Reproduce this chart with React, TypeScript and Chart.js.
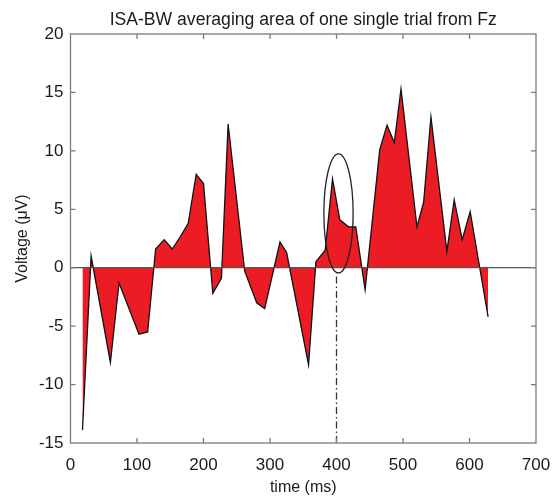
import React, { useEffect, useRef } from "react";
import { Chart, registerables } from "chart.js";

Chart.register(...registerables);

const TITLE = "ISA-BW averaging area of one single trial from Fz";
const X_LABEL = "time (ms)";
const Y_LABEL = "Voltage (μV)";

const timeMs = [18, 31, 60, 73, 103, 116, 128, 141, 153, 165, 177, 189, 200, 214, 227, 237, 262, 280, 292, 315, 325, 358, 369, 383, 394, 405, 418, 429, 443, 465, 476, 487, 497, 521, 531, 542, 566, 577, 589, 601, 628];
const voltage = [-13.9, 1.0, -8.1, -1.3, -5.7, -5.5, 1.6, 2.4, 1.6, 2.65, 3.8, 8.0, 7.2, -2.2, -0.9, 12.3, -0.3, -3.0, -3.5, 2.2, 1.3, -8.3, 0.5, 1.5, 7.6, 4.1, 3.5, 3.5, -1.9, 10.1, 12.2, 10.7, 15.3, 3.5, 5.6, 12.9, 1.4, 5.8, 2.4, 4.8, -4.2];

const X_MIN = 0, X_MAX = 700, X_STEP = 100;
const Y_MIN = -15, Y_MAX = 20, Y_STEP = 5;

const baselineX = [0, 700];
const baselineY = [0, 0];

const markerX = [400, 400];
const markerY = [-15, -0.5];

const ellipseCenter = [403, 4.65];
const ellipseRadius = [22, 5.1];

const FONT = "'Liberation Sans', Arial, Helvetica, sans-serif";

const framePlugin = {
  id: "frame",
  afterDatasetsDraw(chart: any) {
    const { ctx, chartArea: a, scales } = chart;
    const xs = scales.x, ys = scales.y;
    ctx.save();
    // ellipse annotation
    const cx = xs.getPixelForValue(ellipseCenter[0]);
    const cy = ys.getPixelForValue(ellipseCenter[1]);
    const rx = Math.abs(xs.getPixelForValue(ellipseCenter[0] + ellipseRadius[0]) - cx);
    const ry = Math.abs(ys.getPixelForValue(ellipseCenter[1] + ellipseRadius[1]) - cy);
    ctx.beginPath();
    ctx.ellipse(cx, cy, rx, ry, 0, 0, Math.PI * 2);
    ctx.strokeStyle = "#222";
    ctx.lineWidth = 1.3;
    ctx.stroke();
    // frame
    ctx.strokeStyle = "#7a7a7a";
    ctx.lineWidth = 1.3;
    ctx.strokeRect(a.left, a.top, a.right - a.left, a.bottom - a.top);
    const tl = 5;
    ctx.beginPath();
    for (let v = X_MIN + X_STEP; v < X_MAX; v += X_STEP) {
      const px = xs.getPixelForValue(v);
      ctx.moveTo(px, a.bottom); ctx.lineTo(px, a.bottom - tl);
      ctx.moveTo(px, a.top); ctx.lineTo(px, a.top + tl);
    }
    for (let v = Y_MIN + Y_STEP; v < Y_MAX; v += Y_STEP) {
      const py = ys.getPixelForValue(v);
      ctx.moveTo(a.left, py); ctx.lineTo(a.left + tl, py);
      ctx.moveTo(a.right, py); ctx.lineTo(a.right - tl, py);
    }
    ctx.stroke();
    // title centred over the axes
    ctx.fillStyle = "#1a1a1a";
    ctx.font = `17.6px ${FONT}`;
    ctx.textAlign = "center";
    ctx.textBaseline = "middle";
    ctx.fillText(TITLE, (a.left + a.right) / 2, 20);
    ctx.restore();
  },
};

export default function App() {
  const ref = useRef<HTMLCanvasElement>(null);
  useEffect(() => {
    document.body.style.margin = "0";
    const chart = new Chart(ref.current!, {
      type: "line",
      data: {
        datasets: [
          {
            label: "baseline",
            data: baselineX.map((x, i) => ({ x, y: baselineY[i] })),
            borderColor: "#555",
            borderWidth: 1.3,
            pointRadius: 0,
            fill: false,
            order: 0,
          },
          {
            label: "marker",
            data: markerX.map((x, i) => ({ x, y: markerY[i] })),
            borderColor: "#333",
            borderWidth: 1.3,
            borderDash: [7, 3, 1.5, 3],
            pointRadius: 0,
            fill: false,
            order: 1,
          },
          {
            label: "ISA-BW",
            data: timeMs.map((x, i) => ({ x, y: voltage[i] })),
            borderColor: "#111",
            borderWidth: 1.3,
            backgroundColor: "rgb(236,28,36)",
            pointRadius: 0,
            tension: 0,
            fill: "origin",
            order: 2,
          },
        ],
      },
      options: {
        animation: false,
        responsive: false,
        maintainAspectRatio: false,
        layout: { padding: { left: 0, right: 17, top: 34, bottom: 0 } },
        plugins: {
          legend: { display: false },
          tooltip: { enabled: false },
          title: { display: false },
        },
        scales: {
          x: {
            type: "linear",
            min: X_MIN,
            max: X_MAX,
            grid: { display: false, drawTicks: false },
            border: { display: false },
            ticks: {
              stepSize: X_STEP,
              color: "#1a1a1a",
              font: { family: FONT, size: 17 },
              padding: 12,
              maxRotation: 0,
            },
            title: {
              display: true,
              text: X_LABEL,
              color: "#1a1a1a",
              font: { family: FONT, size: 16 },
              padding: { top: 0, bottom: 2.4 },
            },
            afterFit(scale: any) {
              scale.height = 57;
              scale.paddingLeft = 0;
              scale.paddingRight = 0;
            },
          },
          y: {
            type: "linear",
            min: Y_MIN,
            max: Y_MAX,
            grid: { display: false, drawTicks: false },
            border: { display: false },
            ticks: {
              stepSize: Y_STEP,
              color: "#1a1a1a",
              font: { family: FONT, size: 17 },
              padding: 7,
            },
            title: {
              display: true,
              text: Y_LABEL,
              color: "#1a1a1a",
              font: { family: FONT, size: 16 },
              padding: { top: 13.4, bottom: 0 },
            },
            afterFit(scale: any) {
              scale.width = 70.5;
              scale.paddingTop = 0;
              scale.paddingBottom = 0;
            },
          },
        },
      },
      plugins: [framePlugin],
    });
    return () => chart.destroy();
  }, []);
  return (
    <div style={{ width: 553, height: 500, background: "#fff" }}>
      <canvas ref={ref} width={553} height={500} />
    </div>
  );
}
